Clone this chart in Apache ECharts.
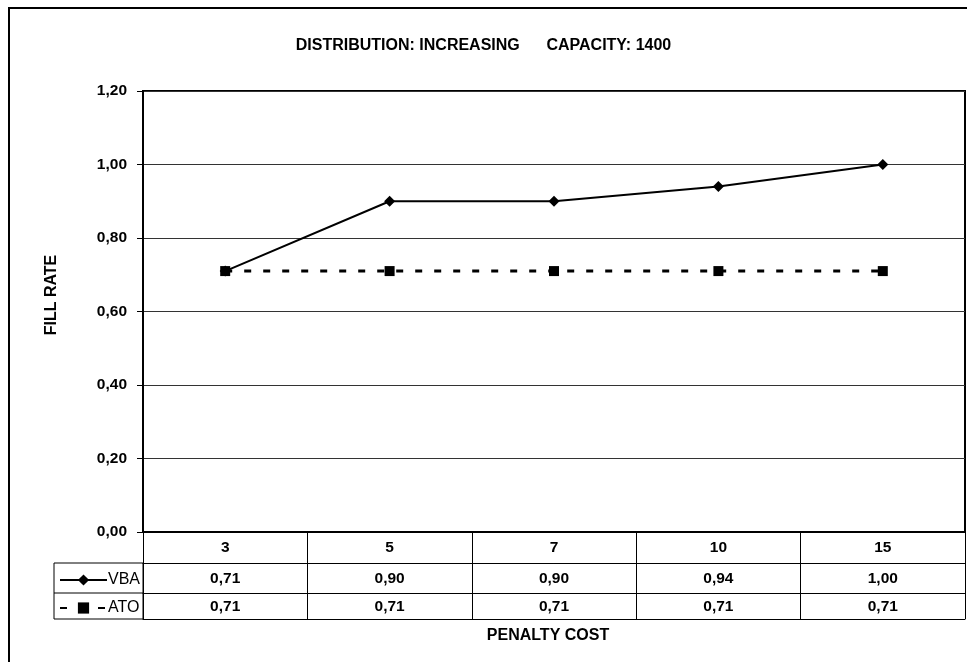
<!DOCTYPE html>
<html>
<head>
<meta charset="utf-8">
<script src="https://cdn.jsdelivr.net/npm/echarts@6/dist/echarts.min.js"></script>
<style>
  html, body { margin: 0; padding: 0; background: #fff; }
  #chart { width: 967px; height: 662px; }
</style>
</head>
<body>
<div id="chart"></div>
<script>
// Penalty cost scenarios (x categories) and fill rates per policy
const penaltyCosts = ['3', '5', '7', '10', '15'];
const vbaFillRate = [0.71, 0.90, 0.90, 0.94, 1.00];
const atoFillRate = [0.71, 0.71, 0.71, 0.71, 0.71];
const seriesNames = ['VBA', 'ATO'];
const fillRateMin = 0;
const fillRateMax = 1.2;
const fillRateStep = 0.2;

const FONT = '"Liberation Sans", Arial, sans-serif';
const NUM_SIZE = 15.5;
const TITLE_SIZE = 16;
const fmt = v => Number(v).toFixed(2).replace('.', ',');

const chart = echarts.init(document.getElementById('chart'), null, { renderer: 'canvas' });

// One category axis per row of the data table under the plot
function tableAxis(offset, tickLen, labelMargin, labelFn) {
  return {
    type: 'category',
    data: penaltyCosts,
    position: 'bottom',
    offset: offset,
    boundaryGap: true,
    axisLine: { show: true, onZero: false, lineStyle: { color: '#000', width: offset === 0 ? 2 : 1 } },
    axisTick: { show: tickLen > 0, interval: 0, length: tickLen, lineStyle: { color: '#000', width: 1 } },
    axisLabel: {
      show: !!labelFn,
      interval: 0,
      margin: labelMargin,
      color: '#000',
      fontFamily: FONT,
      fontSize: NUM_SIZE,
      fontWeight: 'bold',
      formatter: labelFn || undefined
    },
    splitLine: { show: false }
  };
}

const option = {
  animation: false,
  backgroundColor: '#fff',
  title: {
    text: 'DISTRIBUTION: INCREASING      CAPACITY: 1400',
    left: 'center',
    top: 33,
    textStyle: { fontFamily: FONT, fontSize: TITLE_SIZE, fontWeight: 'bold', color: '#000' }
  },
  legend: {
    data: seriesNames,
    orient: 'vertical',
    left: 54,
    top: 567,
    itemWidth: 47,
    itemHeight: 14,
    itemGap: 12,
    textStyle: { fontFamily: FONT, fontSize: 16, color: '#000', padding: [0, 0, 0, -4] },
    selectedMode: false
  },
  grid: {
    left: 143,
    right: 2,
    top: 91,
    bottom: 130,
    show: true,
    borderColor: '#000',
    borderWidth: 2,
    backgroundColor: 'transparent'
  },
  xAxis: [
    tableAxis(0, 31, 8, (v) => v),
    tableAxis(31, 30, 8, (v, i) => fmt(vbaFillRate[i])),
    tableAxis(61, 26, 6, (v, i) => fmt(atoFillRate[i])),
    tableAxis(87, 0, 0, null)
  ],
  yAxis: {
    type: 'value',
    min: fillRateMin,
    max: fillRateMax,
    interval: fillRateStep,
    axisLine: { show: true, lineStyle: { color: '#000', width: 2 } },
    axisTick: { show: true, length: 6, lineStyle: { color: '#000', width: 1 } },
    axisLabel: {
      margin: 16,
      color: '#000',
      fontFamily: FONT,
      fontSize: NUM_SIZE,
      fontWeight: 'bold',
      formatter: fmt
    },
    splitLine: { show: true, lineStyle: { color: '#333', width: 1 } }
  },
  series: [
    {
      name: seriesNames[0],
      type: 'line',
      xAxisIndex: 0,
      data: vbaFillRate,
      symbol: 'diamond',
      symbolSize: 11,
      lineStyle: { color: '#000', width: 2 },
      itemStyle: { color: '#000' },
      z: 2
    },
    {
      name: seriesNames[1],
      type: 'line',
      xAxisIndex: 0,
      data: atoFillRate,
      symbol: 'rect',
      symbolSize: 10,
      lineStyle: { color: '#000', width: 3, type: [7, 12] },
      itemStyle: { color: '#000' },
      z: 3
    }
  ],
  graphic: [
    // outer chart frame
    { type: 'rect', shape: { x: 9, y: 8, width: 1000, height: 700 }, style: { fill: 'none', stroke: '#000', lineWidth: 2 }, silent: true },
    // legend cells of the data table
    { type: 'rect', shape: { x: 54, y: 563, width: 89, height: 56 }, style: { fill: 'none', stroke: '#000', lineWidth: 1 }, silent: true },
    { type: 'line', shape: { x1: 54, y1: 593, x2: 143, y2: 593 }, style: { stroke: '#000', lineWidth: 1 }, silent: true },
    // axis titles
    { type: 'text', x: 52, y: 295, rotation: Math.PI / 2,
      style: { text: 'FILL RATE', font: 'bold ' + TITLE_SIZE + 'px ' + FONT, fill: '#000', align: 'center', verticalAlign: 'middle' }, silent: true },
    { type: 'text', x: 548, y: 636,
      style: { text: 'PENALTY COST', font: 'bold ' + TITLE_SIZE + 'px ' + FONT, fill: '#000', align: 'center', verticalAlign: 'middle' }, silent: true }
  ]
};

chart.setOption(option);
</script>
</body>
</html>
